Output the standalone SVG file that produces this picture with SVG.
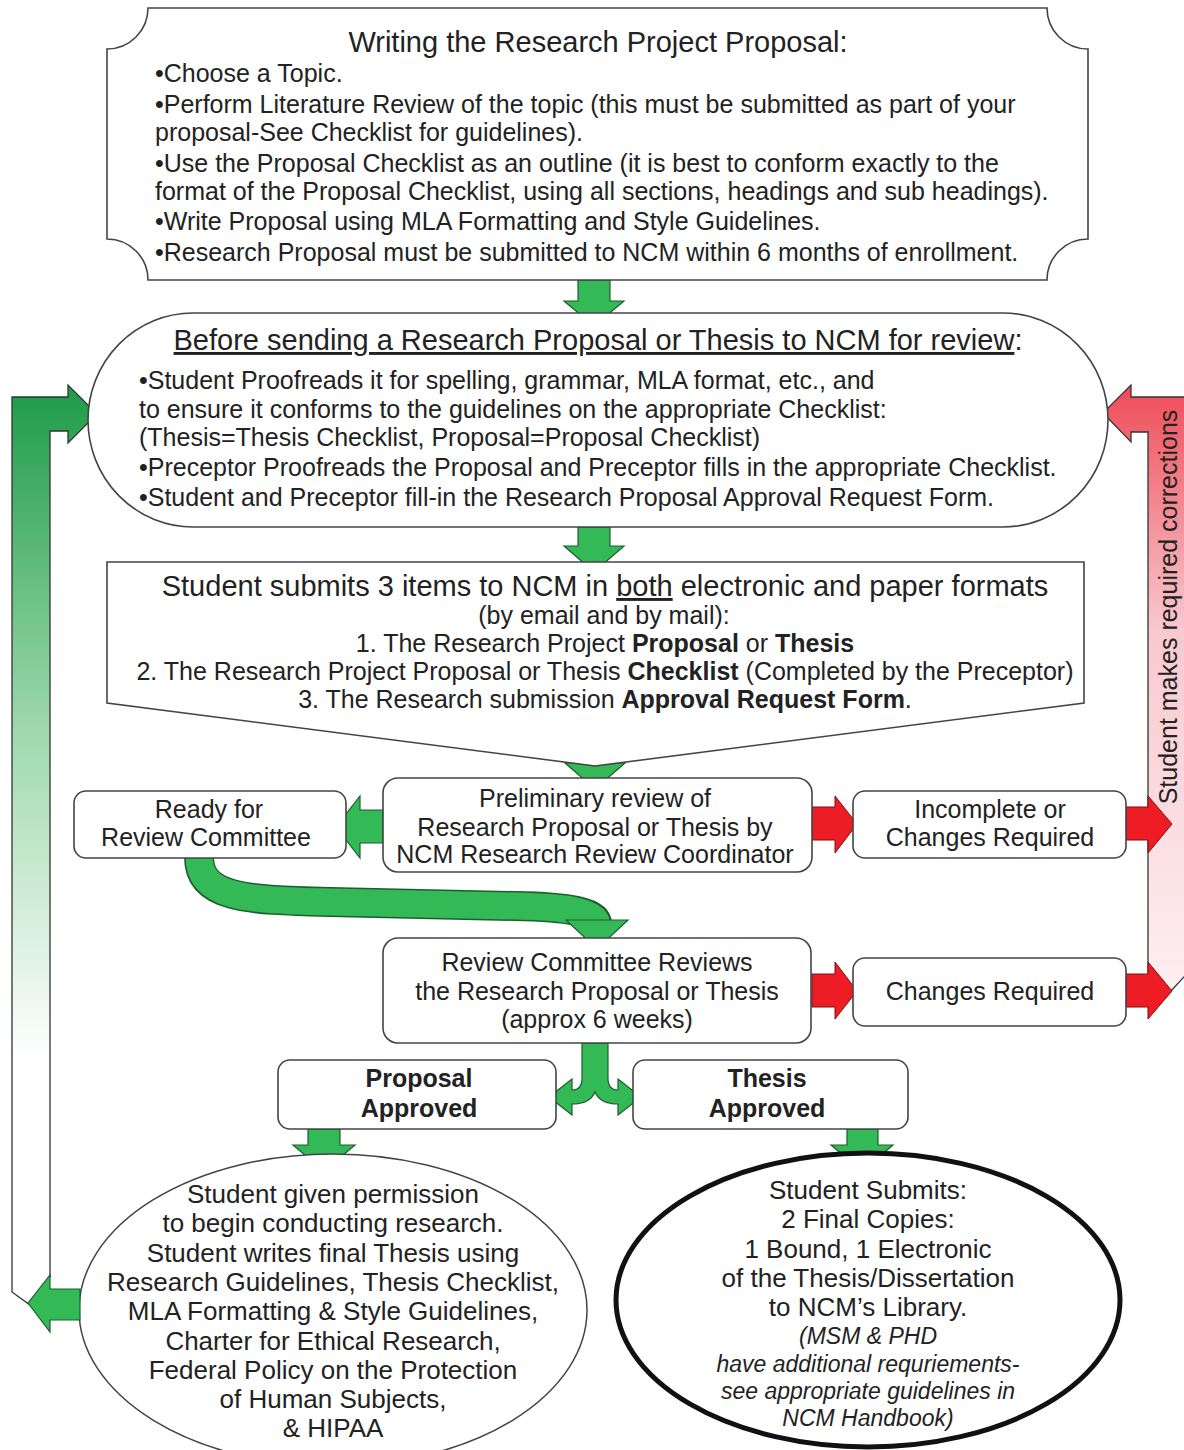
<svg xmlns="http://www.w3.org/2000/svg" width="1184" height="1450" viewBox="0 0 1184 1450">
<defs>
<linearGradient id="gGreen" gradientUnits="userSpaceOnUse" x1="0" y1="390" x2="0" y2="1150">
<stop offset="0" stop-color="#1f9c49"/>
<stop offset="0.45" stop-color="#9fd9ad"/>
<stop offset="0.88" stop-color="#ffffff"/>
</linearGradient>
<linearGradient id="gRed" gradientUnits="userSpaceOnUse" x1="0" y1="385" x2="0" y2="1000">
<stop offset="0" stop-color="#ee4c58"/>
<stop offset="0.4" stop-color="#f8c9cf"/>
<stop offset="1" stop-color="#fdf0f2"/>
</linearGradient>
<style>
.box{fill:#fff;stroke:#444;stroke-width:1.6}
.t{font-family:"Liberation Sans",Arial,sans-serif;fill:#222;font-size:25px}
.c{text-anchor:middle}
.h{font-size:29px}
.e{font-size:26px}
.b{font-weight:bold}
.i{font-style:italic;font-size:23px}
.ga{fill:#33b956;stroke:#1d5e2e;stroke-width:1.2}
.ra{fill:#ee1c25;stroke:#7a1014;stroke-width:1}
</style>
</defs>
<rect width="1184" height="1450" fill="#fff"/>

<g id="connectors">
<path d="M12,1292 L12,397 L68,397 L68,385 L97,414 L68,443 L68,431 L50,431 L50,1277 L30,1305 Z" fill="url(#gGreen)" stroke="#333" stroke-width="1.3"/>
<path d="M1148,975 L1148,432 L1131,432 L1131,442 L1103,413 L1131,385 L1131,397 L1195,397 L1195,965 L1170,992 Z" fill="url(#gRed)" stroke="#333" stroke-width="1.3"/>
<path class="ga" d="M578,280 L610,280 L610,301 L624,301 L594,326 L564,301 L578,301 Z"/>
<path class="ga" d="M578,527 L610,527 L610,546 L624,546 L594,572 L564,546 L578,546 Z"/>
<path class="ga" d="M579,743 L611,743 L611,763 L625,763 L595,789 L565,763 L579,763 Z"/>
<path class="ga" d="M383,810 L360,810 L360,796 L336,827 L360,858 L360,843 L383,843 Z"/>
<path d="M199,857 C199,898 245,900 330,902 L515,906 C570,907 597,912 597,924" fill="none" stroke="#1d5e2e" stroke-width="30"/>
<path d="M199,856 C199,898 245,900 330,902 L515,906 C570,907 597,912 597,926" fill="none" stroke="#33b956" stroke-width="27"/>
<path class="ga" d="M566,920 L628,920 L597,949 Z"/>
<path class="ra" d="M812,807 L835,807 L835,796 L857,824 L835,853 L835,840 L812,840 Z"/>
<path class="ra" d="M1126,807 L1148,807 L1148,796 L1172,824 L1148,853 L1148,840 L1126,840 Z"/>
<path class="ra" d="M812,974 L835,974 L835,962 L857,991 L835,1019 L835,1007 L812,1007 Z"/>
<path class="ra" d="M1126,974 L1148,974 L1148,962 L1172,991 L1148,1019 L1148,1007 L1126,1007 Z"/>
<path class="ga" d="M582,1043 L608,1043 L608,1078 Q608,1090 618,1090 L618,1079 L641,1097 L618,1115 L618,1104 Q600,1104 595,1092 Q590,1104 572,1104 L572,1115 L549,1097 L572,1079 L572,1090 Q582,1090 582,1078 Z"/>
<path class="ga" d="M308,1129 L340,1129 L340,1145 L355,1145 L324,1171 L293,1145 L308,1145 Z"/>
<path class="ga" d="M847,1129 L878,1129 L878,1145 L893,1145 L862,1171 L831,1145 L847,1145 Z"/>
</g>

<g id="n-proposal">
<path class="box" d="M148,8 L1047,8 A41,41 0 0 0 1088,49 L1088,239 A41,41 0 0 0 1047,280 L148,280 A41,41 0 0 0 107,239 L107,49 A41,41 0 0 0 148,8 Z"/>
<text class="t h c" x="598" y="52">Writing the Research Project Proposal:</text>
<text class="t" x="155" y="82">•Choose a Topic.</text>
<text class="t" x="155" y="113">•Perform Literature Review of the topic (this must be submitted as part of your</text>
<text class="t" x="155" y="141">proposal-See Checklist for guidelines).</text>
<text class="t" x="155" y="172">•Use the Proposal Checklist as an outline (it is best to conform exactly to the</text>
<text class="t" x="155" y="200">format of the Proposal Checklist, using all sections, headings and sub headings).</text>
<text class="t" x="155" y="230">•Write Proposal using MLA Formatting and Style Guidelines.</text>
<text class="t" x="155" y="261">•Research Proposal must be submitted to NCM within 6 months of enrollment.</text>
</g>

<g id="n-before">
<rect class="box" x="88" y="313" width="1020" height="214" rx="105" ry="107"/>
<text class="t h c" x="598" y="350"><tspan text-decoration="underline">Before sending a Research Proposal or Thesis to NCM for review</tspan>:</text>
<text class="t" x="139" y="389">•Student Proofreads it for spelling, grammar, MLA format, etc., and</text>
<text class="t" x="139" y="418">to ensure it conforms to the guidelines on the appropriate Checklist:</text>
<text class="t" x="139" y="446">(Thesis=Thesis Checklist, Proposal=Proposal Checklist)</text>
<text class="t" x="139" y="476">•Preceptor Proofreads the Proposal and Preceptor fills in the appropriate Checklist.</text>
<text class="t" x="139" y="506">•Student and Preceptor fill-in the Research Proposal Approval Request Form.</text>
</g>

<g id="n-submit">
<path class="box" d="M107,562 L1084,562 L1084,703 L595,766 L107,703 Z"/>
<text class="t h c" x="605" y="596">Student submits 3 items to NCM in <tspan text-decoration="underline">both</tspan> electronic and paper formats</text>
<text class="t c" x="604" y="624">(by email and by mail):</text>
<text class="t c" x="605" y="652">1. The Research Project <tspan class="b">Proposal</tspan> or <tspan class="b">Thesis</tspan></text>
<text class="t c" x="605" y="680">2. The Research Project Proposal or Thesis <tspan class="b">Checklist</tspan> (Completed by the Preceptor)</text>
<text class="t c" x="605" y="708">3. The Research submission <tspan class="b">Approval Request Form</tspan>.</text>
</g>

<g id="n-prelim">
<rect class="box" x="383" y="778" width="429" height="94" rx="15"/>
<text class="t c" x="595" y="807">Preliminary review of</text>
<text class="t c" x="595" y="836">Research Proposal or Thesis by</text>
<text class="t c" x="595" y="863">NCM Research Review Coordinator</text>
</g>

<g id="n-ready">
<rect class="box" x="74" y="791" width="272" height="67" rx="12"/>
<text class="t c" x="209" y="818">Ready for</text>
<text class="t c" x="206" y="846">Review Committee</text>
</g>

<g id="n-incomplete">
<rect class="box" x="853" y="791" width="273" height="67" rx="12"/>
<text class="t c" x="990" y="818">Incomplete or</text>
<text class="t c" x="990" y="846">Changes Required</text>
</g>

<g id="n-review">
<rect class="box" x="383" y="938" width="428" height="105" rx="15"/>
<text class="t c" x="597" y="971">Review Committee Reviews</text>
<text class="t c" x="597" y="1000">the Research Proposal or Thesis</text>
<text class="t c" x="597" y="1028">(approx 6 weeks)</text>
</g>

<g id="n-changes">
<rect class="box" x="853" y="958" width="273" height="68" rx="12"/>
<text class="t c" x="990" y="1000">Changes Required</text>
</g>

<g id="n-prop-approved">
<rect class="box" x="278" y="1060" width="278" height="69" rx="12"/>
<text class="t c b" x="419" y="1087" font-size="27">Proposal</text>
<text class="t c b" x="419" y="1117" font-size="27">Approved</text>
</g>

<g id="n-thesis-approved">
<rect class="box" x="633" y="1060" width="275" height="69" rx="12"/>
<text class="t c b" x="767" y="1087" font-size="27">Thesis</text>
<text class="t c b" x="767" y="1117" font-size="27">Approved</text>
</g>

<g id="n-permission">
<ellipse cx="333" cy="1310" rx="254" ry="156" fill="#fff" stroke="#444" stroke-width="1.5"/>
<text class="t c e" x="333" y="1203">Student given permission</text>
<text class="t c e" x="333" y="1232">to begin conducting research.</text>
<text class="t c e" x="333" y="1262">Student writes final Thesis using</text>
<text class="t c e" x="333" y="1291">Research Guidelines, Thesis Checklist,</text>
<text class="t c e" x="333" y="1320">MLA Formatting &amp; Style Guidelines,</text>
<text class="t c e" x="333" y="1350">Charter for Ethical Research,</text>
<text class="t c e" x="333" y="1379">Federal Policy on the Protection</text>
<text class="t c e" x="333" y="1408">of Human Subjects,</text>
<text class="t c e" x="333" y="1437">&amp; HIPAA</text>
</g>

<g id="n-final">
<ellipse cx="868" cy="1300" rx="252" ry="147" fill="#fff" stroke="#111" stroke-width="5"/>
<text class="t c e" x="868" y="1199">Student Submits:</text>
<text class="t c e" x="868" y="1228">2 Final Copies:</text>
<text class="t c e" x="868" y="1258">1 Bound, 1 Electronic</text>
<text class="t c e" x="868" y="1287">of the Thesis/Dissertation</text>
<text class="t c e" x="868" y="1316">to NCM’s Library.</text>
<text class="t c i" x="868" y="1344">(MSM &amp; PHD</text>
<text class="t c i" x="868" y="1372">have additional requriements-</text>
<text class="t c i" x="868" y="1399">see appropriate guidelines in</text>
<text class="t c i" x="868" y="1426">NCM Handbook)</text>
</g>

<g id="return-arrows">
<path class="ga" d="M80,1289 L50,1289 L50,1275 L28,1303 L50,1332 L50,1320 L80,1320 Z"/>
<text class="t c" transform="translate(1177,607) rotate(-90)">Student makes required corrections</text>
</g>
</svg>
